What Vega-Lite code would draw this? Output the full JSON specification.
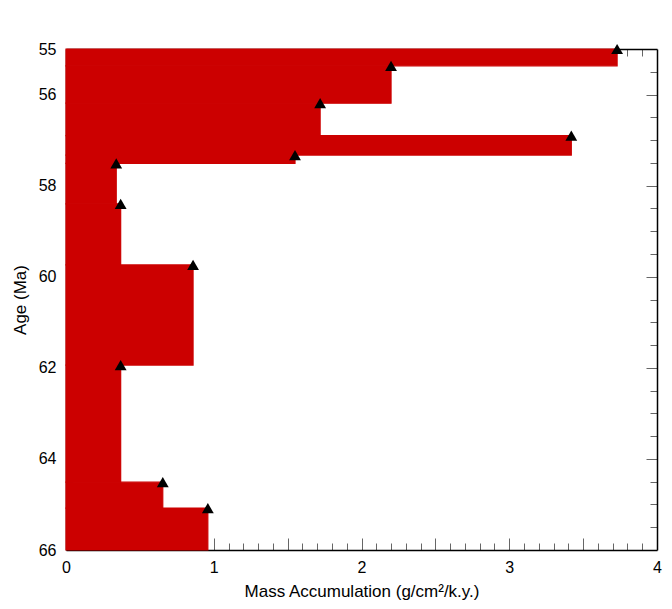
{
  "$schema": "https://vega.github.io/schema/vega-lite/v6.json",
  "width": 591,
  "height": 501,
  "autosize": {"type": "none"},
  "padding": {"left": 66, "top": 49, "right": 15, "bottom": 59},
  "background": "white",
  "config": {
    "view": {"stroke": null},
    "font": "Liberation Sans",
    "axis": {"grid": false, "zindex": 1}
  },
  "data": {
    "values": [
      {"top": 55.0, "bottom": 55.37, "mar": 3.73},
      {"top": 55.37, "bottom": 56.19, "mar": 2.2},
      {"top": 56.19, "bottom": 56.9, "mar": 1.72},
      {"top": 56.9, "bottom": 57.33, "mar": 3.42},
      {"top": 57.33, "bottom": 57.51, "mar": 1.55},
      {"top": 57.51, "bottom": 58.4, "mar": 0.34},
      {"top": 58.4, "bottom": 59.74, "mar": 0.37},
      {"top": 59.74, "bottom": 61.94, "mar": 0.86},
      {"top": 61.94, "bottom": 64.51, "mar": 0.37},
      {"top": 64.51, "bottom": 65.08, "mar": 0.655},
      {"top": 65.08, "bottom": 66.0, "mar": 0.96}
    ]
  },
  "resolve": {"axis": {"x": "independent", "y": "independent"}},
  "layer": [
    {
      "mark": {"type": "rect", "color": "#CC0000", "stroke": "#CC0000", "strokeWidth": 1.2},
      "encoding": {
        "x": {"field": "mar", "type": "quantitative",
          "scale": {"domain": [0, 4], "nice": false, "zero": true},
          "axis": {"orient": "bottom", "title": "Mass Accumulation (g/cm²/k.y.)", "values": [0, 1, 2, 3, 4], "format": "d",
            "ticks": false, "labelPadding": 9, "labelFontSize": 16, "labelColor": "#000", "labelFlush": false,
            "titleFontSize": 17, "titleFontWeight": "normal", "titleColor": "#000", "titlePadding": 8,
            "domainColor": "#000", "domainWidth": 1.5}},
        "x2": {"datum": 0},
        "y": {"field": "top", "type": "quantitative",
          "scale": {"domain": [55, 66], "reverse": true, "nice": false, "zero": false},
          "axis": {"orient": "left", "title": "Age (Ma)", "values": [55, 56, 58, 60, 62, 64, 66], "format": "d",
            "ticks": false, "labelPadding": 10, "labelFontSize": 16, "labelColor": "#000", "labelFlush": false,
            "titleFontSize": 17, "titleFontWeight": "normal", "titleColor": "#000", "titlePadding": 9,
            "domainColor": "#000", "domainWidth": 1.5}},
        "y2": {"field": "bottom"}
      }
    },
    {
      "mark": {"type": "point", "shape": "triangle-up", "filled": true, "color": "#000", "size": 140, "opacity": 1},
      "encoding": {
        "x": {"field": "mar", "type": "quantitative",
          "axis": {"orient": "bottom", "title": null, "labels": false, "domain": false,
            "values": [0.5, 1, 1.5, 2, 2.5, 3, 3.5],
            "tickSize": -12, "tickColor": "#000", "tickOpacity": 0.6}},
        "y": {"field": "top", "type": "quantitative",
          "axis": {"orient": "left", "title": null, "labels": false, "domain": false,
            "values": [56, 58, 60, 62, 64],
            "tickSize": -11, "tickColor": "#000", "tickOpacity": 0.6}}
      }
    },
    {
      "mark": {"type": "point", "opacity": 0},
      "encoding": {
        "x": {"field": "mar", "type": "quantitative",
          "axis": {"orient": "bottom", "title": null, "labels": false, "domain": false,
            "values": [0.1, 0.2, 0.3, 0.4, 0.6, 0.7, 0.8, 0.9, 1.1, 1.2, 1.3, 1.4, 1.6, 1.7, 1.8, 1.9, 2.1, 2.2, 2.3, 2.4, 2.6, 2.7, 2.8, 2.9, 3.1, 3.2, 3.3, 3.4, 3.6, 3.7, 3.8, 3.9],
            "tickSize": -7, "tickColor": "#000", "tickOpacity": 0.6}},
        "y": {"field": "top", "type": "quantitative",
          "axis": {"orient": "left", "title": null, "labels": false, "domain": false,
            "values": [55.5, 56.5, 57, 57.5, 58.5, 59, 59.5, 60.5, 61, 61.5, 62.5, 63, 63.5, 64.5, 65, 65.5],
            "tickSize": -7, "tickColor": "#000", "tickOpacity": 0.6}}
      }
    },
    {
      "mark": {"type": "point", "opacity": 0},
      "encoding": {
        "x": {"field": "mar", "type": "quantitative",
          "axis": {"orient": "top", "title": null, "labels": false,
            "values": [0.5, 1, 1.5, 2, 2.5, 3, 3.5],
            "tickSize": -12, "tickColor": "#000", "tickOpacity": 0.6,
            "domainColor": "#000", "domainWidth": 1.5}},
        "y": {"field": "top", "type": "quantitative",
          "axis": {"orient": "right", "title": null, "labels": false,
            "values": [56, 58, 60, 62, 64],
            "tickSize": -11, "tickColor": "#000", "tickOpacity": 0.6,
            "domainColor": "#000", "domainWidth": 1.5}}
      }
    },
    {
      "mark": {"type": "point", "opacity": 0},
      "encoding": {
        "x": {"field": "mar", "type": "quantitative",
          "axis": {"orient": "top", "title": null, "labels": false, "domain": false,
            "values": [0.1, 0.2, 0.3, 0.4, 0.6, 0.7, 0.8, 0.9, 1.1, 1.2, 1.3, 1.4, 1.6, 1.7, 1.8, 1.9, 2.1, 2.2, 2.3, 2.4, 2.6, 2.7, 2.8, 2.9, 3.1, 3.2, 3.3, 3.4, 3.6, 3.7, 3.8, 3.9],
            "tickSize": -7, "tickColor": "#000", "tickOpacity": 0.6}},
        "y": {"field": "top", "type": "quantitative",
          "axis": {"orient": "right", "title": null, "labels": false, "domain": false,
            "values": [55.5, 56.5, 57, 57.5, 58.5, 59, 59.5, 60.5, 61, 61.5, 62.5, 63, 63.5, 64.5, 65, 65.5],
            "tickSize": -7, "tickColor": "#000", "tickOpacity": 0.6}}
      }
    }
  ]
}
